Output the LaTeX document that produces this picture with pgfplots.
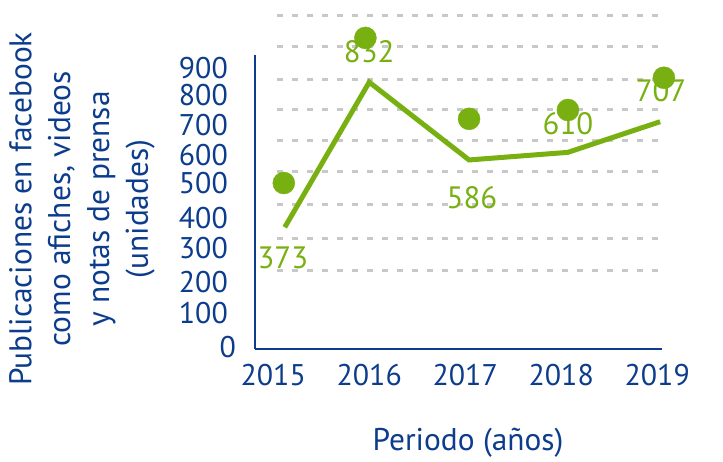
\documentclass[border=0pt]{standalone}
\usepackage{fontspec}
\setmainfont{PT Sans}
\usepackage{pgfplots}
\pgfplotsset{compat=1.18}
\definecolor{navy}{RGB}{12,60,140}
\definecolor{lgreen}{RGB}{120,176,18}
\definecolor{gridgray}{RGB}{200,200,200}
\begin{document}
\begin{tikzpicture}[x=1bp,y=1bp]
\path[use as bounding box] (0,0) rectangle (723,462);
\begin{axis}[
  at={(255bp,113bp)}, anchor=south west,
  width=407bp, height=294bp, scale only axis,
  xmin=2014.81, xmax=2019.05, ymin=-12, ymax=918,
  axis lines=left, axis line style={navy, line width=2.5bp, -},
  clip=false,
  xtick={2015,2016,2017,2018,2019},
  xticklabels={2015,2016,2017,2018,2019},
  ytick={-6,102,200,308,403,513,602,697,792,877},
  yticklabels={0\kern-8bp,100,200,300,400,500,600,700,800,900},
  major tick length=0pt, tick style={draw=none},
  ticklabel style={font=\fontsize{30}{30}\selectfont, text=navy},
  yticklabel style={anchor=east, inner sep=1bp, xshift=-26bp},
  xticklabel style={anchor=north, yshift=-12bp},
]
% lineas de guia
\pgfplotsinvokeforeach{235,339,444,551,646,747,842,944,1042}{
  \draw[gridgray, line width=3bp, dash pattern=on 6bp off 9bp]
    (axis cs:2015.04,#1) -- (axis cs:2019.05,#1);
}
\addplot[lgreen, line width=5bp, no markers]
  coordinates {(2015.12,373)(2016,832)(2017.04,586)(2018.07,610)(2019.03,707)};
% etiquetas
\addplot[draw=none, no markers, nodes near coords, point meta=explicit symbolic,
  nodes near coords style={anchor=center, font=\fontsize{31}{31}\selectfont, text=lgreen}]
  coordinates {(2015.10,276)[373] (2016,928)[832] (2017.07,466)[586] (2018.07,700)[610] (2019.04,804)[707]};
% puntos
\addplot[only marks, mark=*, mark size=11bp, lgreen, mark options={draw=none, fill=lgreen}]
  coordinates {(2015.11,513)(2015.96,972)(2017.04,716)(2018.07,744)(2019.07,846)};
\end{axis}
\node[rotate=90, align=center, text=navy, font=\fontsize{31.5}{39}\selectfont] at (82,253)
  {Publicaciones en facebook\\como afiches, videos\\y notas de prensa\\(unidades)};
\node[text=navy, font=\fontsize{31.5}{31.5}\selectfont] at (468,19) {Periodo (años)};
\end{tikzpicture}
\end{document}
